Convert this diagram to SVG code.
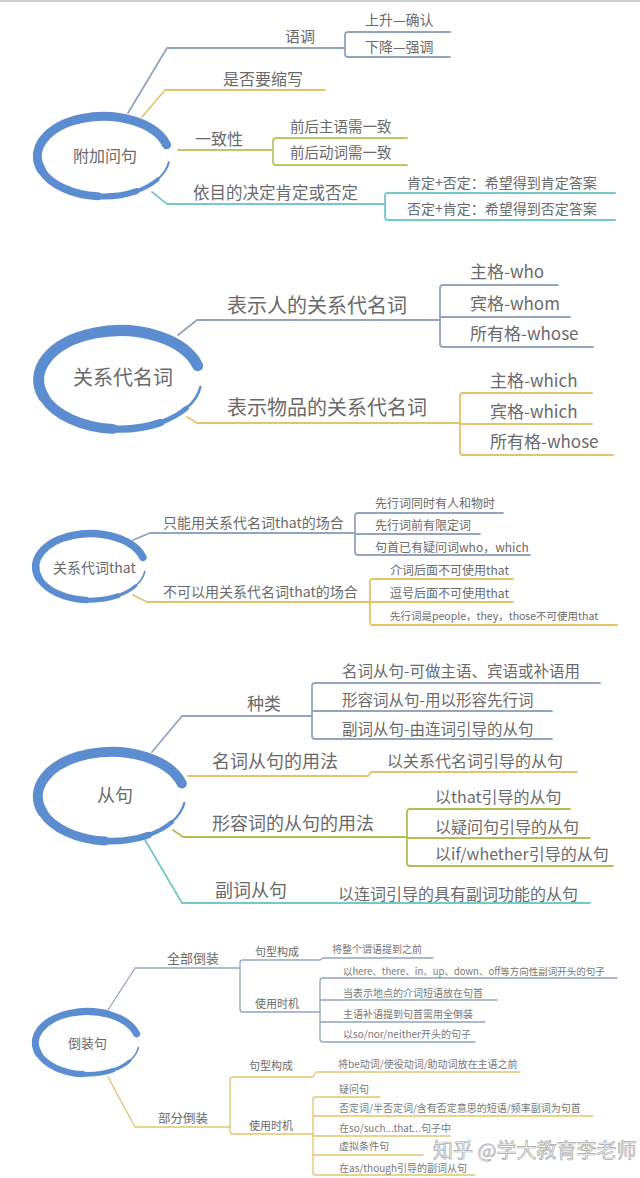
<svg xmlns="http://www.w3.org/2000/svg" xmlns:xlink="http://www.w3.org/1999/xlink" width="640" height="1178" viewBox="0 0 640 1178">
<style>
text{font-family:"Noto Sans CJK SC","Noto Sans",sans-serif;fill:#6a6a6a}
.c{fill:none;stroke-linecap:round;stroke-linejoin:round;stroke-width:1.8}
.s{stroke-width:1.3}
.gb{stroke:#93a4bd}
.ye{stroke:#e3c36c}
.gr{stroke:#b3cc6a}
.ol{stroke:#afc052}
.te{stroke:#74c8c9}
.ring path{fill:none;stroke:#5b8dd0;stroke-linecap:round}
.sm{fill:#777}
.wm{fill:#fbfbfb;stroke:#a8a8a8;stroke-width:0.7;font-size:20px}
</style>
<defs>
<g id="ring" class="ring">
<path d="M63.1,-11.7 A66,40 0 1 0 -62.0,13.7" stroke-width="9"/>
<path d="M-62.0,13.7 A66,40 0 0 0 -5.8,39.8" stroke-width="8"/>
<path d="M-5.8,39.8 A66,40 0 0 0 33,34.6" stroke-width="6"/>
<path d="M33,34.6 A66,40 0 0 0 54.1,22.9" stroke-width="4"/>
<path d="M54.1,22.9 A66,40 0 0 0 65.4,5.6" stroke-width="2"/>
</g>
</defs>
<rect width="640" height="1178" fill="#ffffff"/>
<line x1="0" y1="1" x2="640" y2="1" stroke="#cfcfcf" stroke-width="2"/>

<g id="connectors">
<!-- section 1 -->
<path class="c gb" d="M128,113 L167,48 H345"/>
<path class="c gb" d="M450,32 H348 Q345,32 345,35 V54 Q345,57 348,57 H450"/>
<path class="c ye" d="M142,117 L165,90 H325"/>
<path class="c gr" d="M178,150 H273"/>
<path class="c gr" d="M407,138 H276 Q273,138 273,141 V162 Q273,165 276,165 H407"/>
<path class="c te" d="M152,192 L167,204 H385"/>
<path class="c te" d="M615,193 H388 Q385,193 385,196 V217 Q385,220 388,220 H615"/>
<!-- section 2 -->
<path class="c gb" d="M178,335 L197,320 H440"/>
<path class="c gb" d="M558,285 H443 Q440,285 440,288 V344 Q440,347 443,347 H593 M440,317 H570"/>
<path class="c ye" d="M187,417 L197,423 H460"/>
<path class="c ye" d="M592,393 H463 Q460,393 460,396 V452 Q460,455 463,455 H613 M460,424 H592"/>
<!-- section 3 -->
<path class="c gb" d="M133,540 L150,533 H355"/>
<path class="c gb" d="M503,513 H358 Q355,513 355,516 V552 Q355,555 358,555 H530 M355,534 H480"/>
<path class="c ye" d="M133,595 L147,602 H370"/>
<path class="c ye" d="M513,579 H373 Q370,579 370,582 V622 Q370,625 373,625 H617 M370,602 H513"/>
<!-- section 4 -->
<path class="c gb" d="M152,752 L182,716 H312"/>
<path class="c gb" d="M600,683 H315 Q312,683 312,686 V736 Q312,739 315,739 H552 M312,711 H552"/>
<path class="c ye" d="M188,776 H368 L371,772 H577"/>
<path class="c ol" d="M173,830 L183,837 H407"/>
<path class="c ol" d="M570,809 H410 Q407,809 407,812 V863 Q407,866 410,866 H613 M407,838 H590"/>
<path class="c te" d="M145,840 L182,903 H590"/>
<!-- section 5 -->
<path class="c s gb" d="M108,1010 L135,968 H240"/>
<path class="c s gb" d="M320,960 H243 Q240,960 240,963 V1009 Q240,1012 243,1012 H320 M320,960 L323,958 H433"/>
<path class="c s gb" d="M617,978 H323 Q320,978 320,981 V1039 Q320,1042 323,1042 H475 M320,1000 H497 M320,1022 H485"/>
<path class="c s ye" d="M108,1077 L135,1127 H230"/>
<path class="c s ye" d="M313,1077 H233 Q230,1077 230,1080 V1131 Q230,1134 233,1134 H313 M313,1077 L316,1072 H520"/>
<path class="c s ye" d="M380,1097 H316 Q313,1097 313,1100 V1172 Q313,1175 316,1175 H475 M313,1116 H593 M313,1136 H450 M313,1155 H423"/>
</g>

<!-- Section 1 -->
<g id="n-fujiawenju">
<use xlink:href="#ring" href="#ring" transform="translate(103.5,156.5)"/>
<text x="73" y="162" font-size="16">附加问句</text>
</g>
<g id="n-yudiao"><text x="285" y="42" font-size="15">语调</text></g>
<g id="n-shangsheng"><text x="365" y="25" font-size="14">上升—确认</text></g>
<g id="n-xiajiang"><text x="365" y="52" font-size="14">下降—强调</text></g>
<g id="n-suoxie"><text x="223" y="85" font-size="16">是否要缩写</text></g>
<g id="n-yizhixing"><text x="195" y="145" font-size="16">一致性</text></g>
<g id="n-zhuyu"><text x="290" y="132" font-size="14.5">前后主语需一致</text></g>
<g id="n-dongci"><text x="290" y="158" font-size="14.5">前后动词需一致</text></g>
<g id="n-yimudi"><text x="193" y="199" font-size="16.5">依目的决定肯定或否定</text></g>
<g id="n-kending"><text x="407" y="188" font-size="14">肯定+否定：希望得到肯定答案</text></g>
<g id="n-fouding"><text x="407" y="214" font-size="14">否定+肯定：希望得到否定答案</text></g>

<!-- Section 2 -->
<g id="n-guanxidaimingci">
<use xlink:href="#ring" href="#ring" transform="translate(120,380) scale(1.23)"/>
<text x="73" y="385" font-size="20">关系代名词</text>
</g>
<g id="n-ren"><text x="227" y="313" font-size="20">表示人的关系代名词</text></g>
<g id="n-who"><text x="470" y="278" font-size="17">主格-who</text></g>
<g id="n-whom"><text x="470" y="310" font-size="17">宾格-whom</text></g>
<g id="n-whose1"><text x="470" y="340" font-size="17">所有格-whose</text></g>
<g id="n-wupin"><text x="227" y="415" font-size="20">表示物品的关系代名词</text></g>
<g id="n-which1"><text x="490" y="387" font-size="17">主格-which</text></g>
<g id="n-which2"><text x="490" y="418" font-size="17">宾格-which</text></g>
<g id="n-whose2"><text x="490" y="448" font-size="17">所有格-whose</text></g>

<!-- Section 3 -->
<g id="n-that">
<use xlink:href="#ring" href="#ring" transform="translate(90.5,567) scale(0.83)"/>
<text x="53" y="573" font-size="14">关系代词that</text>
</g>
<g id="n-zhineng"><text x="163" y="528" font-size="14">只能用关系代名词that的场合</text></g>
<g id="n-t1"><text x="375" y="508" font-size="12">先行词同时有人和物时</text></g>
<g id="n-t2"><text x="375" y="530" font-size="12">先行词前有限定词</text></g>
<g id="n-t3"><text x="375" y="552" font-size="12">句首已有疑问词who，which</text></g>
<g id="n-bukeyi"><text x="163" y="597" font-size="14">不可以用关系代名词that的场合</text></g>
<g id="n-t4"><text x="390" y="575" font-size="12">介词后面不可使用that</text></g>
<g id="n-t5"><text x="390" y="598" font-size="12">逗号后面不可使用that</text></g>
<g id="n-t6"><text x="390" y="620" font-size="10.5">先行词是people，they，those不可使用that</text></g>

<!-- Section 4 -->
<g id="n-congju">
<use xlink:href="#ring" href="#ring" transform="translate(111.5,796.6) scale(1.114)"/>
<text x="97" y="802" font-size="18">从句</text>
</g>
<g id="n-zhonglei"><text x="247" y="710" font-size="17">种类</text></g>
<g id="n-c1"><text x="342" y="677" font-size="15.5">名词从句-可做主语、宾语或补语用</text></g>
<g id="n-c2"><text x="342" y="706" font-size="15.5">形容词从句-用以形容先行词</text></g>
<g id="n-c3"><text x="342" y="735" font-size="15.5">副词从句-由连词引导的从句</text></g>
<g id="n-mingci"><text x="212" y="768" font-size="18">名词从句的用法</text></g>
<g id="n-c4"><text x="387" y="767" font-size="16">以关系代名词引导的从句</text></g>
<g id="n-xingrong"><text x="212" y="830" font-size="18">形容词的从句的用法</text></g>
<g id="n-c5"><text x="435" y="803" font-size="16">以that引导的从句</text></g>
<g id="n-c6"><text x="435" y="833" font-size="16">以疑问句引导的从句</text></g>
<g id="n-c7"><text x="435" y="860" font-size="16">以if/whether引导的从句</text></g>
<g id="n-fuci"><text x="215" y="897" font-size="18">副词从句</text></g>
<g id="n-c8"><text x="338" y="900" font-size="16">以连词引导的具有副词功能的从句</text></g>

<!-- Section 5 -->
<g id="n-daozhuang">
<use xlink:href="#ring" href="#ring" transform="translate(87.2,1043) scale(0.784)"/>
<text x="68" y="1048" font-size="13">倒装句</text>
</g>
<g id="n-quanbu"><text x="167" y="963" font-size="13">全部倒装</text></g>
<g id="n-jx1"><text x="255" y="956" font-size="11">句型构成</text></g>
<g id="n-d1"><text class="sm" x="332" y="953" font-size="10">将整个谓语提到之前</text></g>
<g id="n-sy1"><text x="255" y="1008" font-size="11">使用时机</text></g>
<g id="n-d2"><text class="sm" x="343" y="975" font-size="9.5">以here、there、in、up、down、off等方向性副词开头的句子</text></g>
<g id="n-d3"><text class="sm" x="343" y="997" font-size="10">当表示地点的介词短语放在句首</text></g>
<g id="n-d4"><text class="sm" x="343" y="1018" font-size="10">主语补语提到句首需用全倒装</text></g>
<g id="n-d5"><text class="sm" x="343" y="1038" font-size="10">以so/nor/neither开头的句子</text></g>
<g id="n-bufen"><text x="158" y="1123" font-size="12.5">部分倒装</text></g>
<g id="n-jx2"><text x="249" y="1070" font-size="11">句型构成</text></g>
<g id="n-d6"><text class="sm" x="338" y="1068" font-size="10">将be动词/使役动词/助动词放在主语之前</text></g>
<g id="n-sy2"><text x="249" y="1130" font-size="11">使用时机</text></g>
<g id="n-d7"><text class="sm" x="339" y="1093" font-size="10">疑问句</text></g>
<g id="n-d8"><text class="sm" x="339" y="1112" font-size="10">否定词/半否定词/含有否定意思的短语/频率副词为句首</text></g>
<g id="n-d9"><text class="sm" x="339" y="1132" font-size="10">在so/such...that...句子中</text></g>
<g id="n-d10"><text class="sm" x="339" y="1150" font-size="10">虚拟条件句</text></g>
<g id="n-d11"><text class="sm" x="339" y="1172" font-size="10">在as/though引导的副词从句</text></g>

<text class="wm" x="433" y="1158">知乎 @学大教育李老师</text>
</svg>
